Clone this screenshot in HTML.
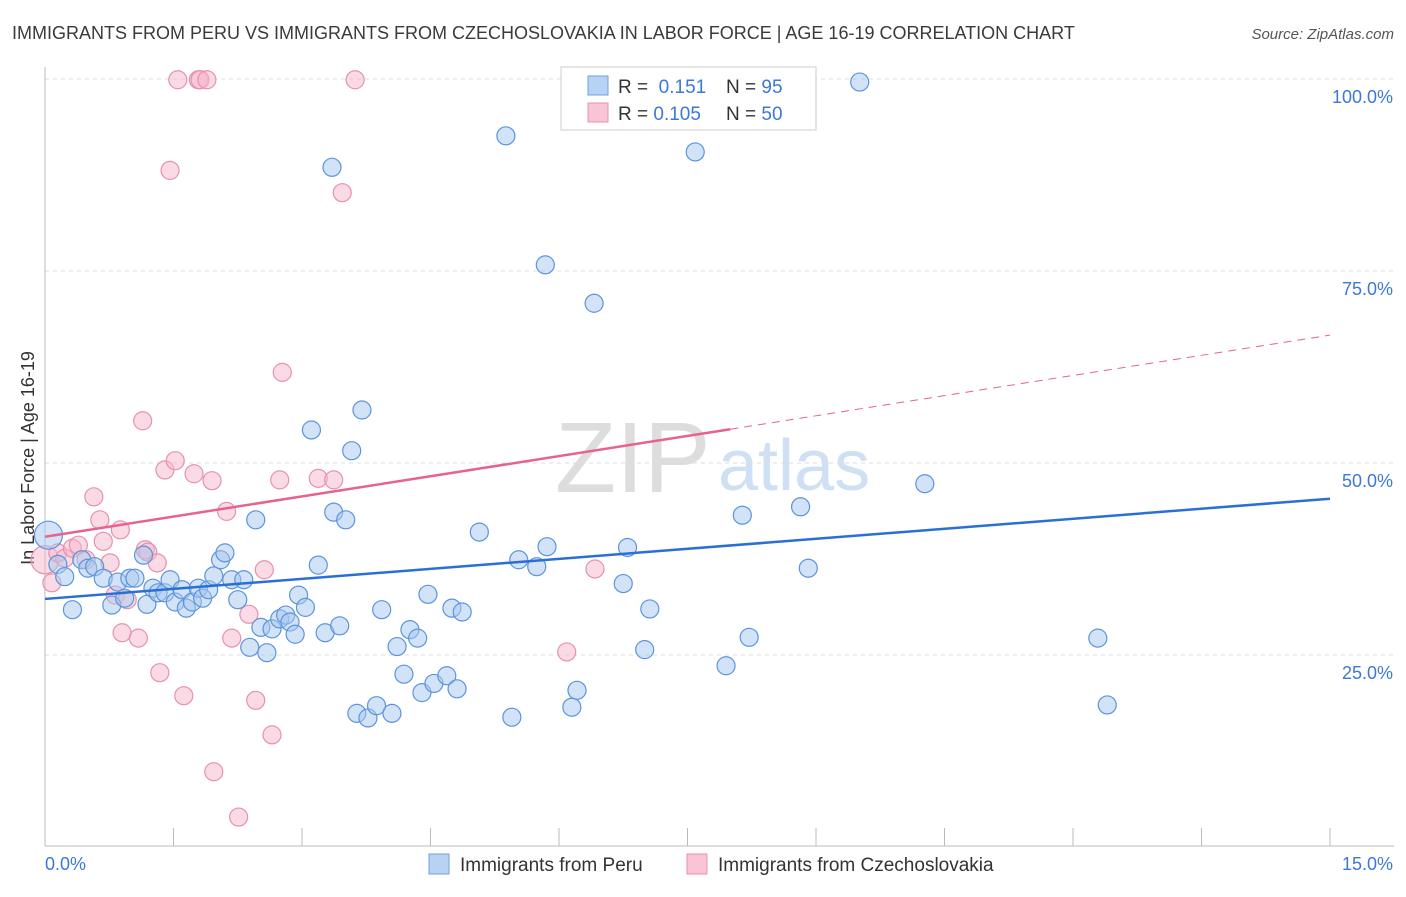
<!DOCTYPE html>
<html><head><meta charset="utf-8"><style>
body{margin:0;background:#fff;font-family:"Liberation Sans",sans-serif}
svg text{font-family:"Liberation Sans",sans-serif}
</style></head><body>
<svg id="chart" width="1406" height="892">
<text x="12" y="39" font-size="18" fill="#3a3a3a">IMMIGRANTS FROM PERU VS IMMIGRANTS FROM CZECHOSLOVAKIA IN LABOR FORCE | AGE 16-19 CORRELATION CHART</text>
<text x="1394" y="39" font-size="15" fill="#555" text-anchor="end" font-style="italic">Source: ZipAtlas.com</text>
<text transform="translate(34,458) rotate(-90)" font-size="18" fill="#333" text-anchor="middle">In Labor Force | Age 16-19</text>
<text x="555" y="492" font-size="100" fill="#ddd" font-family="Liberation Serif">ZIP</text>
<text x="718" y="490" font-size="72" fill="#cfe0f4">atlas</text>
<g id="grid"></g><g id="axes"></g><g id="pts"></g><g id="trend"></g>
<g>
<rect x="561" y="67" width="255" height="63" fill="#fff" stroke="#ccc"/>
<rect x="588" y="76" width="20" height="19" fill="#b8d2f4" stroke="#6fa0e0"/>
<rect x="588" y="103" width="20" height="19" fill="#f8c4d6" stroke="#e890ae"/>
<text x="618" y="93" font-size="19" fill="#333">R = <tspan fill="#3b78d8">&#160;0.151</tspan><tspan x="726">N = </tspan><tspan fill="#3b78d8">95</tspan></text>
<text x="618" y="120" font-size="19" fill="#333">R = <tspan fill="#3b78d8">0.105</tspan><tspan x="726">N = </tspan><tspan fill="#3b78d8">50</tspan></text>
</g>
<g>
<rect x="429" y="854" width="20" height="20" fill="#b8d2f4" stroke="#6fa0e0"/>
<text x="460" y="871" font-size="19" fill="#333">Immigrants from Peru</text>
<rect x="687" y="854" width="20" height="20" fill="#f8c4d6" stroke="#e890ae"/>
<text x="718" y="871" font-size="19" fill="#333">Immigrants from Czechoslovakia</text>
</g>
</svg>
<script>
const xTicks=[0,1.5,3,4.5,6,7.5,9,10.5,12,13.5,15];
const yTicks=[25,50,75,100];
const yTickLabels=["25.0%","50.0%","75.0%","100.0%"];
const peruX=[0.04,0.15,0.23,0.32,0.43,0.50,0.58,0.68,0.78,0.85,0.93,0.99,1.05,1.15,1.19,1.26,1.32,1.40,1.46,1.52,1.60,1.65,1.72,1.79,1.84,1.91,1.97,2.05,2.10,2.18,2.25,2.32,2.39,2.46,2.52,2.59,2.65,2.74,2.81,2.86,2.92,2.96,3.04,3.11,3.19,3.27,3.35,3.37,3.44,3.51,3.58,3.64,3.70,3.77,3.87,3.93,4.05,4.11,4.19,4.26,4.35,4.40,4.47,4.54,4.69,4.75,4.81,4.87,5.07,5.38,5.45,5.53,5.74,5.84,5.86,6.15,6.21,6.41,6.75,6.80,7.00,7.06,7.59,7.95,8.14,8.22,8.82,8.91,9.51,10.27,12.29,12.40];
const peruY=[40.6,36.8,35.2,30.9,37.4,36.3,36.5,35.0,31.5,34.5,32.4,35.0,35.0,38.0,31.6,33.7,33.1,33.1,34.8,31.9,33.5,31.1,31.9,33.7,32.4,33.5,35.3,37.4,38.3,34.8,32.2,34.8,26.0,42.6,28.6,25.3,28.4,29.7,30.2,29.3,27.7,32.8,31.2,54.3,36.7,27.9,88.5,43.6,28.8,42.6,51.6,17.4,56.9,16.8,18.4,30.9,17.4,26.1,22.5,28.3,27.2,20.1,32.9,21.3,22.3,31.1,20.6,30.6,41.0,92.6,16.9,37.4,36.5,75.8,39.1,18.2,20.4,70.8,34.3,39.0,25.7,31.0,90.5,23.6,43.2,27.3,44.3,36.3,99.6,47.3,27.2,18.5];
const czX=[0,0.08,0.15,0.23,0.32,0.39,0.48,0.57,0.64,0.68,0.76,0.82,0.88,0.90,0.96,1.09,1.14,1.17,1.20,1.31,1.34,1.40,1.46,1.52,1.55,1.62,1.74,1.79,1.81,1.89,1.95,1.97,2.12,2.18,2.26,2.38,2.46,2.56,2.65,2.74,2.77,3.19,3.37,3.47,3.62,6.09,6.42];
const czY=[37.4,34.4,38.3,37.6,38.9,39.3,37.4,45.6,42.6,39.8,37.0,32.8,41.3,27.9,32.2,27.2,55.5,38.7,38.4,37.0,22.7,49.1,88.1,50.3,99.9,19.7,48.6,99.9,99.9,99.9,47.7,9.8,43.7,27.2,3.9,30.3,19.1,36.1,14.6,47.8,61.8,48.0,47.8,85.2,99.9,25.4,36.2];
const X0=45,X1=1330,Y0=847,Y100=79;
const sx=v=>X0+(v/15)*(X1-X0);
const sy=v=>Y0-(v/100)*(Y0-Y100);
const NS="http://www.w3.org/2000/svg";
function mk(t,a,p){const e=document.createElementNS(NS,t);for(const k in a)e.setAttribute(k,a[k]);p.appendChild(e);return e;}
const gridG=document.getElementById('grid'),axesG=document.getElementById('axes'),ptsG=document.getElementById('pts'),trG=document.getElementById('trend');
yTicks.forEach((t,i)=>{
 const l=mk('line',{x1:X0,x2:1394,y1:sy(t),y2:sy(t),stroke:'#ddd','stroke-dasharray':'4,4'},gridG);
 
 
 const tx=mk('text',{x:1393,y:sy(t)+24,'font-size':18,fill:'#3b78d8','text-anchor':'end'},axesG);tx.textContent=yTickLabels[i];
 
 
});
mk('line',{x1:X0,x2:X0,y1:67,y2:846,stroke:'#bbb'},axesG);
mk('line',{x1:X0,x2:1394,y1:846,y2:846,stroke:'#bbb'},axesG);
xTicks.forEach(t=>{const l=mk('line',{x1:sx(t),x2:sx(t),y1:828,y2:846,stroke:'#bbb'},axesG);
 
 });
const t0=mk('text',{x:45,y:870,'font-size':18,fill:'#3b78d8'},axesG);t0.textContent='0.0%';


const t1=mk('text',{x:1393,y:870,'font-size':18,fill:'#3b78d8','text-anchor':'end'},axesG);t1.textContent='15.0%';


function dots(xs,ys,fill,stroke,name){const n=Math.min(xs.length,ys.length);for(let i=0;i<n;i++){const c=mk('circle',{cx:sx(xs[i]),cy:sy(ys[i]),r:i==0?14:9,fill:fill,'fill-opacity':0.5,stroke:stroke,'stroke-width':1.2},ptsG);
 
 }}
dots(czX,czY,'#f6b8cc','#e890ae','point-czechoslovakia');
dots(peruX,peruY,'#a8c8f0','#5b94dc','point-peru');
const pf=[32.3,0.87],cf=[40.4,1.75];
const l1=mk('line',{x1:sx(0),y1:sy(pf[0]),x2:sx(15),y2:sy(pf[0]+pf[1]*15),stroke:'#2a6fd6','stroke-width':2.5},trG);


const l2=mk('line',{x1:sx(0),y1:sy(cf[0]),x2:sx(8),y2:sy(cf[0]+cf[1]*8),stroke:'#e5638e','stroke-width':2.5},trG);


const l3=mk('line',{x1:sx(8),y1:sy(cf[0]+cf[1]*8),x2:sx(15),y2:sy(cf[0]+cf[1]*15),stroke:'#e5638e','stroke-width':1,'stroke-dasharray':'8,6'},trG);


</script>
</body></html>
